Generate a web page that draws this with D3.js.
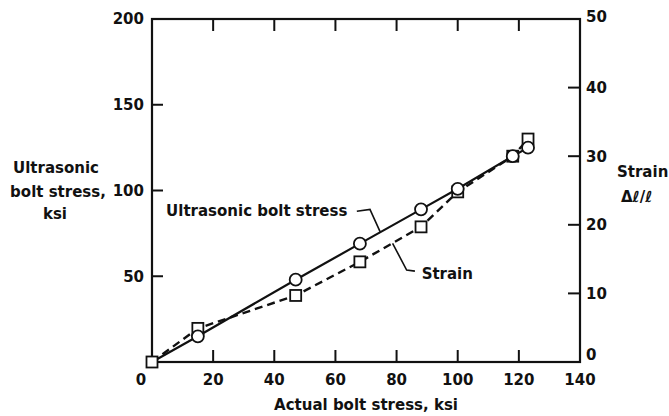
<!DOCTYPE html>
<html>
<head>
<meta charset="utf-8">
<script src="https://cdn.jsdelivr.net/npm/d3@7"></script>
<style>
  body { margin: 0; background: #fff; }
  text { font-family: "DejaVu Sans", sans-serif; font-weight: bold; fill: #111; }
</style>
</head>
<body>
<div id="chart"></div>
<script>
// data
var actualStress = [0, 15, 47, 68, 88, 100, 118, 123];          // ksi, x axis
var ultrasonicStress = [0, 15, 48, 69, 89, 101, 120, 125];      // ksi, left axis
var strain = [0, 4.9, 9.7, 14.6, 19.7, 24.8, 30, 32.5];         // right axis
var xTicks = [0, 20, 40, 60, 80, 100, 120, 140];
var leftTicks = [50, 100, 150, 200];
var rightTicks = [0, 10, 20, 30, 40, 50];

// annotations in data units (x ksi, left-axis ksi)
var ultraLeader = [[67, 87.9], [71.3, 89], [74.6, 76]];
var strainLeader = [[86, 53], [83.3, 53.6], [78.7, 69.2]];

const W = 669, H = 416;
const m = {top: 19, right: 89, bottom: 54, left: 152};

var svg = d3.select("#chart").append("svg")
  .attr("width", W).attr("height", H);

var x = d3.scaleLinear().domain([0, 140]).range([m.left, W - m.right]);
var yL = d3.scaleLinear().domain([0, 200]).range([H - m.bottom, m.top]);
var yR = d3.scaleLinear().domain([0, 50]).range([H - m.bottom, m.top]);

var x0 = x(0), x1 = x(140), y0 = yL(0), y1 = yL(200);

// frame
svg.append("rect")
  .attr("x", x0).attr("y", y1)
  .attr("width", x1 - x0).attr("height", y0 - y1)
  .style("fill", "none").style("stroke", "#111").style("stroke-width", 2.2);

// inner ticks
var inner = xTicks.filter(function(d){ return d > 0 && d < 140; });
svg.append("g").selectAll("line").data(inner).enter().append("line")
  .attr("x1", d => x(d)).attr("x2", d => x(d))
  .attr("y1", y0).attr("y2", y0 - 12)
  .style("stroke", "#111").style("stroke-width", 2);
svg.append("g").selectAll("line").data(inner).enter().append("line")
  .attr("x1", d => x(d)).attr("x2", d => x(d))
  .attr("y1", y1).attr("y2", y1 + 12)
  .style("stroke", "#111").style("stroke-width", 2);
svg.append("g").selectAll("line").data(leftTicks.filter(d => d < 200)).enter().append("line")
  .attr("x1", x0).attr("x2", x0 + 11)
  .attr("y1", d => yL(d)).attr("y2", d => yL(d))
  .style("stroke", "#111").style("stroke-width", 2);
svg.append("g").selectAll("line").data(rightTicks.filter(d => d > 0 && d < 50)).enter().append("line")
  .attr("x1", x1).attr("x2", x1 - 12)
  .attr("y1", d => yR(d)).attr("y2", d => yR(d))
  .style("stroke", "#111").style("stroke-width", 2);

// tick labels
svg.append("g").selectAll("text").data(xTicks).enter().append("text")
  .attr("x", d => x(d) + (d === 0 ? -11 : 0))
  .attr("y", y0 + 23)
  .attr("text-anchor", "middle").attr("font-size", "15px")
  .text(d => d);
svg.append("g").selectAll("text").data(leftTicks).enter().append("text")
  .attr("x", x0 - 8).attr("y", d => yL(d))
  .attr("dy", d => d === 200 ? "0.3em" : "0.36em")
  .attr("text-anchor", "end").attr("font-size", "15px")
  .text(d => d);
svg.append("g").selectAll("text").data(rightTicks).enter().append("text")
  .attr("x", x1 + 6).attr("y", d => yR(d) + (d === 0 ? -7 : d === 50 ? -2 : 0))
  .attr("dy", "0.36em")
  .attr("text-anchor", "start").attr("font-size", "15px")
  .text(d => d);

// axis titles
svg.append("text").attr("x", (x0 + x1) / 2 - 0).attr("y", 410)
  .attr("text-anchor", "middle").attr("font-size", "15px")
  .text("Actual bolt stress, ksi");
var lt = svg.append("text").attr("text-anchor", "middle").attr("font-size", "15px");
lt.append("tspan").attr("x", 56).attr("y", 173).text("Ultrasonic");
lt.append("tspan").attr("x", 58).attr("y", 197).text("bolt stress,");
lt.append("tspan").attr("x", 55).attr("y", 219).text("ksi");
var rt = svg.append("text").attr("text-anchor", "start").attr("font-size", "15px");
rt.append("tspan").attr("x", 617).attr("y", 177).text("Strain");
rt.append("tspan").attr("x", 621).attr("y", 202).text("\u0394\u2113/\u2113");

// series lines
var ultraPts = actualStress.map((d, i) => [x(d), yL(ultrasonicStress[i])]);
var strainPts = actualStress.map((d, i) => [x(d), yR(strain[i])]);

svg.append("path").attr("d", d3.line()(strainPts))
  .style("fill", "none").style("stroke", "#111").style("stroke-width", 2.4)
  .style("stroke-dasharray", "8,5");
svg.append("path").attr("d", d3.line()(ultraPts))
  .style("fill", "none").style("stroke", "#111").style("stroke-width", 2.2);

// markers
svg.append("g").selectAll("rect").data(strainPts).enter().append("rect")
  .attr("x", d => d[0] - 5.5).attr("y", d => d[1] - 5.5)
  .attr("width", 11).attr("height", 11)
  .style("fill", "#fff").style("stroke", "#111").style("stroke-width", 1.8);
svg.append("g").selectAll("circle").data(ultraPts.slice(1)).enter().append("circle")
  .attr("cx", d => d[0]).attr("cy", d => d[1]).attr("r", 6)
  .style("fill", "#fff").style("stroke", "#111").style("stroke-width", 1.8);

// annotations
var lead = d3.line().x(d => x(d[0])).y(d => yL(d[1]));
svg.append("text").attr("x", x(4.6)).attr("y", yL(85.1))
  .attr("font-size", "15px").text("Ultrasonic bolt stress");
svg.append("path").attr("d", lead(ultraLeader))
  .style("fill", "none").style("stroke", "#111").style("stroke-width", 1.6);
svg.append("text").attr("x", x(88.2)).attr("y", yL(48.4))
  .attr("font-size", "15px").text("Strain");
svg.append("path").attr("d", lead(strainLeader))
  .style("fill", "none").style("stroke", "#111").style("stroke-width", 1.6);
</script>
</body>
</html>
